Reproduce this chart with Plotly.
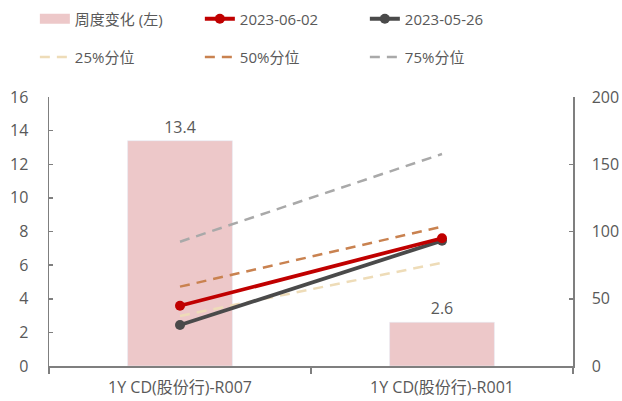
import plotly.graph_objects as go

categories = ["1Y CD(股份行)-R007", "1Y CD(股份行)-R001"]
weekly_change = [13.4, 2.6]
s_0602 = [44.8, 95.0]
s_0526 = [30.5, 93.2]
p25 = [37.2, 76.8]
p50 = [59.0, 103.6]
p75 = [92.4, 157.6]

FONT = "Open Sans, Noto Sans CJK SC"
TXT = "#595959"
AX = "#7F7F7F"
BAR = "#EDC8C9"

fig = go.Figure()

fig.add_trace(go.Bar(
    x=categories, y=weekly_change, name="周度变化（左）", marker_color=BAR,
    width=0.4, texttemplate="%{y:.1f}", textposition="outside",
    textfont=dict(size=16, color=TXT, family=FONT), cliponaxis=False,
    showlegend=False, yaxis="y"))
# legend swatch for the bar series
fig.add_trace(go.Scatter(
    x=[None], y=[None], mode="lines", name="周度变化 (左)",
    line=dict(color=BAR, width=10), legend="legend", yaxis="y"))

def dashed(vals, name, color):
    fig.add_trace(go.Scatter(
        x=categories, y=vals, name=name, mode="lines",
        line=dict(color=color, width=2.5, dash="10px,7px"),
        yaxis="y2", legend="legend2"))

dashed(p25, "25%分位", "#EEDCB8")
dashed(p50, "50%分位", "#C98250")
dashed(p75, "75%分位", "#A9A9A9")

fig.add_trace(go.Scatter(
    x=categories, y=s_0526, name="2023-05-26", mode="lines+markers",
    line=dict(color="#4A4A4A", width=3.8), marker=dict(size=10, color="#4A4A4A"),
    yaxis="y2", legend="legend", legendrank=3))
fig.add_trace(go.Scatter(
    x=categories, y=s_0602, name="2023-06-02", mode="lines+markers",
    line=dict(color="#C00000", width=3.8), marker=dict(size=10, color="#C00000"),
    yaxis="y2", legend="legend", legendrank=2))
fig.data[1].legendrank = 1

legend_common = dict(orientation="h", xanchor="left", yanchor="middle",
                     font=dict(size=15, color=TXT, family=FONT),
                     entrywidth=120, bgcolor="rgba(0,0,0,0)",
                     traceorder="normal", itemclick=False)

fig.update_layout(
    width=622, height=401,
    margin=dict(l=49, r=49, t=97, b=35, autoexpand=False),
    paper_bgcolor="white", plot_bgcolor="white",
    font=dict(family=FONT, size=16, color=TXT),
    hovermode=False,
    legend=dict(x=-0.027, y=1.29, **legend_common),
    legend2=dict(x=-0.027, y=1.148, **legend_common),
    xaxis=dict(type="category", showline=True, linecolor=AX, linewidth=1.5,
               ticks="outside", tickson="boundaries", ticklen=6, tickcolor=AX,
               tickwidth=1.5, ticklabelstandoff=6,
               tickfont=dict(size=16, color=TXT), showgrid=False),
    yaxis=dict(range=[0, 16], dtick=2, showline=True, linecolor=AX, linewidth=1.5,
               ticks="inside", ticklen=4, tickcolor=AX, tickwidth=1.5,
               showgrid=False, zeroline=False, ticklabelstandoff=16,
               tickfont=dict(size=16, color=TXT)),
    yaxis2=dict(range=[0, 200], dtick=50, overlaying="y", side="right",
                showline=True, linecolor=AX, linewidth=1.5, ticks="inside",
                ticklen=4, tickcolor=AX, tickwidth=1.5, showgrid=False,
                zeroline=False, ticklabelstandoff=14,
                tickfont=dict(size=16, color=TXT)),
)

fig.write_html("out.html", config={"displayModeBar": False, "staticPlot": True},
               post_script="document.body.style.margin='0';document.body.style.overflow='hidden';")
